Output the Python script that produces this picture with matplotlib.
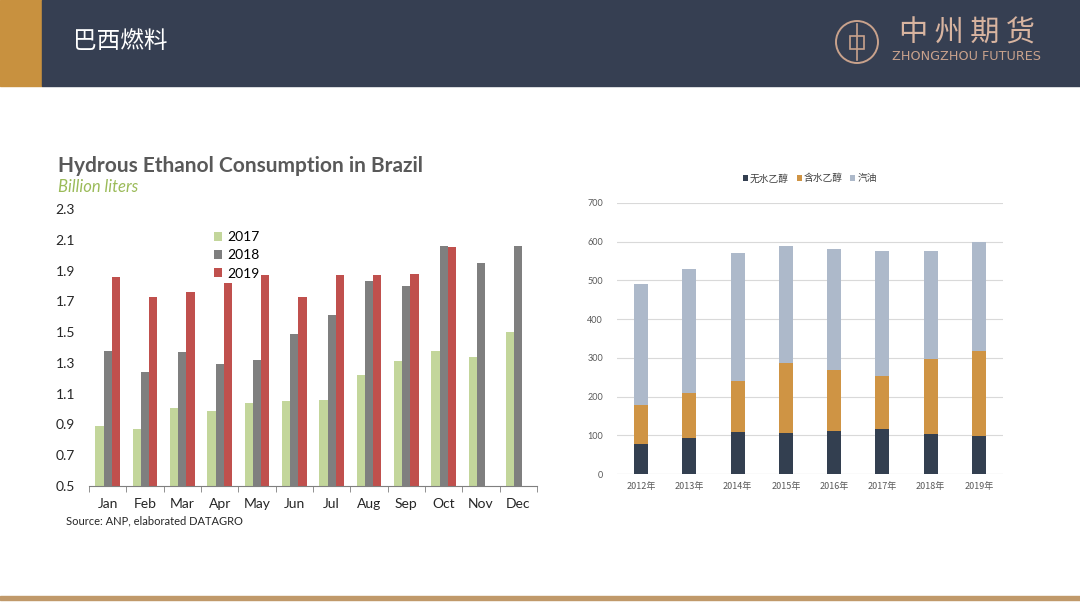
import numpy as np
import matplotlib.pyplot as plt
from matplotlib.patches import Rectangle, Ellipse

plt.rcParams['font.family'] = ['Lato', 'Noto Sans CJK SC', 'DejaVu Sans']

# left chart data (billion liters)
months = ['Jan', 'Feb', 'Mar', 'Apr', 'May', 'Jun', 'Jul', 'Aug', 'Sep', 'Oct', 'Nov', 'Dec']
y2017 = [0.89, 0.87, 1.01, 0.99, 1.04, 1.05, 1.06, 1.22, 1.31, 1.38, 1.34, 1.50]
y2018 = [1.38, 1.24, 1.37, 1.29, 1.32, 1.49, 1.61, 1.83, 1.80, 2.06, 1.95, 2.06]
y2019 = [1.86, 1.73, 1.76, 1.82, 1.87, 1.73, 1.87, 1.87, 1.88, 2.05, np.nan, np.nan]

# right chart data
years = ['2012年', '2013年', '2014年', '2015年', '2016年', '2017年', '2018年', '2019年']
anhydrous = [77, 92, 109, 106, 112, 117, 103, 98]
hydrous = [100, 116, 130, 180, 156, 137, 193, 219]
gasoline = [315, 321, 333, 302, 313, 321, 279, 281]

W, H = 1080, 607
fig = plt.figure(figsize=(W / 100, H / 100), dpi=100)


def box(x0, y0, x1, y1):
    # pixel box (top-left origin) -> figure fraction
    return [x0 / W, 1 - y1 / H, (x1 - x0) / W, (y1 - y0) / H]


# header band
fig.patches.append(Rectangle((0, 1 - 86 / H), 42 / W, 86 / H, transform=fig.transFigure,
                             color='#c8913f', zorder=0))
fig.patches.append(Rectangle((42 / W, 1 - 86 / H), 1 - 42 / W, 86 / H, transform=fig.transFigure,
                             color='#363f52', zorder=0))
fig.text(73 / W, 1 - 41 / H, '巴西燃料', color='white', fontsize=17,
         family='Noto Sans CJK SC', va='center', ha='left')
# logo
logo = '#c9a28c'
fig.patches.append(Ellipse((857 / W, 1 - 42 / H), 42 / W, 42 / H, transform=fig.transFigure,
                           fill=False, ec=logo, lw=1.4))
fig.patches.append(Rectangle((850 / W, 1 - 49 / H), 14 / W, 13 / H, transform=fig.transFigure,
                             fill=False, ec=logo, lw=1.2))
fig.lines.append(plt.Line2D([857 / W, 857 / W], [1 - 24 / H, 1 - 60 / H],
                            transform=fig.transFigure, color=logo, lw=1.2))
fig.text(967 / W, 1 - 34 / H, '中 州 期 货', color='#d8b4a0', fontsize=21,
         family='Noto Sans CJK SC', va='center', ha='center')
fig.text(967 / W, 1 - 56 / H, 'ZHONGZHOU FUTURES', color=logo, fontsize=9.2,
         family='DejaVu Sans', va='center', ha='center')

# bottom line
fig.patches.append(Rectangle((0, 1 - 600 / H), 1, 4 / H, transform=fig.transFigure,
                             color='#c0996a', zorder=0))

# ---------- left chart ----------
ax = fig.add_axes(box(89, 209, 537, 486))
x = np.arange(len(months))
bw = 0.22
ax.bar(x - bw, y2017, bw, color='#c3d69b', label='2017')
ax.bar(x, y2018, bw, color='#7f7f7f', label='2018')
ax.bar(x + bw, y2019, bw, color='#c0504d', label='2019')
ax.set_ylim(0.5, 2.3)
ax.set_xlim(-0.5, 11.5)
yt = np.arange(0.5, 2.31, 0.2)
ax.set_yticks(yt)
ax.set_yticklabels([f'{v:.1f}' for v in yt])
ax.set_xticks(x)
ax.set_xticklabels(months)
ax.set_xticks(np.arange(-0.5, 12, 1), minor=True)
ax.tick_params(axis='x', which='major', length=0, pad=9, labelsize=10, labelcolor='#262626')
ax.tick_params(axis='x', which='minor', length=4, color='#7f7f7f', direction='out')
ax.tick_params(axis='y', length=0, pad=10, labelsize=10, labelcolor='#262626')
for s in ['top', 'right', 'left']:
    ax.spines[s].set_visible(False)
ax.spines['bottom'].set_color('#7f7f7f')
ax.legend(loc='upper left', bbox_to_anchor=(0.25, 0.965), frameon=False, fontsize=10,
          handlelength=0.6, handleheight=0.6, handletextpad=0.4, labelspacing=0.45)
fig.text(58 / W, 1 - 166 / H, 'Hydrous Ethanol Consumption in Brazil', fontsize=15,
         fontweight='bold', color='#595959', va='center', ha='left')
fig.text(58 / W, 1 - 187 / H, 'Billion liters', fontsize=12, style='italic',
         color='#9bbb59', va='center', ha='left')
fig.text(66 / W, 1 - 521 / H, 'Source: ANP, elaborated DATAGRO', fontsize=8,
         color='#262626', va='center', ha='left')

# ---------- right chart ----------
ax2 = fig.add_axes(box(617, 203, 1003, 474))
x2 = np.arange(len(years))
bw2 = 0.29
b1 = np.array(anhydrous)
b2 = b1 + np.array(hydrous)
ax2.bar(x2, anhydrous, bw2, color='#333f50', label='无水乙醇', zorder=3)
ax2.bar(x2, hydrous, bw2, bottom=b1, color='#cf9444', label='含水乙醇', zorder=3)
ax2.bar(x2, gasoline, bw2, bottom=b2, color='#adb9ca', label='汽油', zorder=3)
ax2.set_ylim(0, 700)
ax2.set_xlim(-0.5, 7.5)
ax2.set_yticks(range(0, 701, 100))
ax2.set_xticks(x2)
ax2.set_xticklabels(years, family='Noto Sans CJK SC')
ax2.grid(axis='y', color='#d9d9d9', lw=0.8, zorder=0)
ax2.tick_params(length=0, labelsize=6.5, labelcolor='#595959')
ax2.tick_params(axis='y', pad=10)
ax2.tick_params(axis='x', pad=6)
for s in ['top', 'right', 'left', 'bottom']:
    ax2.spines[s].set_visible(False)
ax2.axhline(0, color='#d9d9d9', lw=0.8, zorder=1)
ax2.legend(loc='lower center', bbox_to_anchor=(0.5, 1.04), ncol=3, frameon=False,
           prop={'family': 'Noto Sans CJK SC', 'size': 7}, handlelength=0.5,
           handleheight=0.5, handletextpad=0.2, columnspacing=0.8, labelcolor='#404040')

fig.savefig('out.png', dpi=100)
